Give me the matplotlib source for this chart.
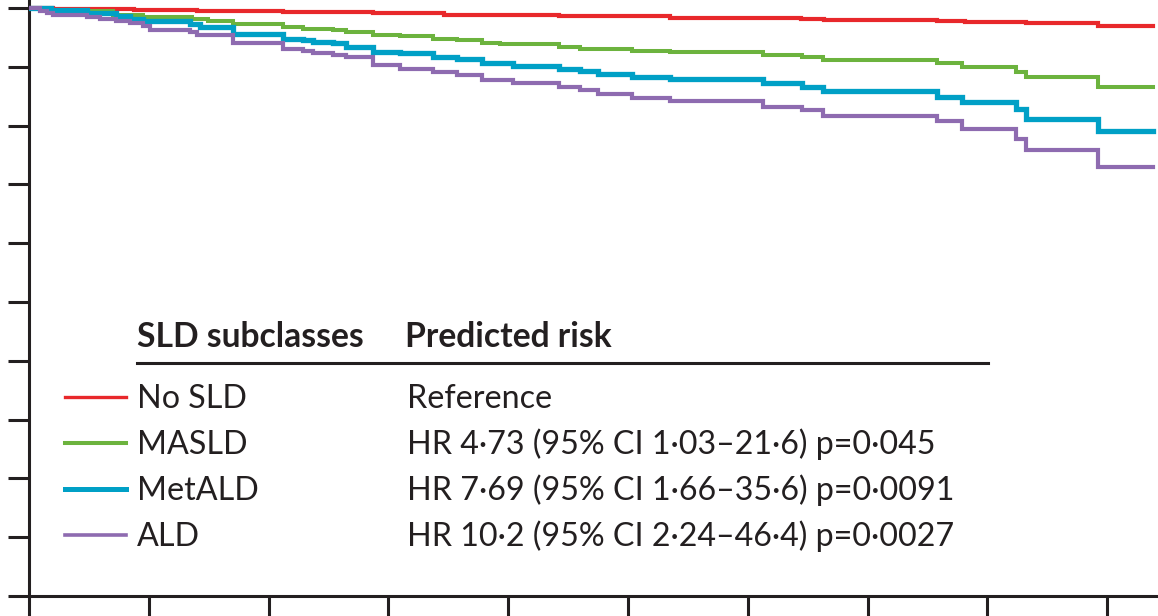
import matplotlib
matplotlib.use("Agg")
import matplotlib.pyplot as plt
from matplotlib.lines import Line2D

plt.rcParams['font.family'] = ['Lato', 'DejaVu Sans']

# ---- data (time in years, survival in %) ----
t_end = 9.38

no_sld_t = [0, 0.20, 0.88, 1.40, 2.12, 2.87, 3.46, 4.42, 5.35, 6.44, 6.64, 7.58, 7.81, 8.23, 8.32, 8.92]
no_sld_s = [100, 99.98, 99.97, 99.95, 99.93, 99.91, 99.88, 99.86, 99.83, 99.81, 99.80, 99.78, 99.77, 99.76, 99.74, 99.70]

masld_t = [0, 0.18, 0.48, 0.70, 0.95, 1.36, 1.49, 1.70, 2.12, 2.29, 2.54, 2.65, 2.87, 3.10, 3.37,
           3.57, 3.78, 3.93, 4.42, 4.60, 4.75, 5.03, 5.35, 6.13, 6.45, 6.63, 7.58, 7.79, 8.24, 8.32, 8.92]
masld_s = [100, 99.97, 99.95, 99.88, 99.85, 99.82, 99.78, 99.73, 99.67, 99.64, 99.62, 99.60, 99.54, 99.52, 99.48,
           99.46, 99.41, 99.39, 99.34, 99.31, 99.30, 99.27, 99.25, 99.20, 99.16, 99.11, 99.07, 99.00, 98.91, 98.82, 98.65]

metald_t = [0, 0.18, 0.48, 0.73, 0.84, 0.95, 1.34, 1.43, 1.70, 2.12, 2.29, 2.37, 2.54, 2.65, 2.87, 3.10, 3.37,
            3.57, 3.78, 4.04, 4.42, 4.60, 4.75, 5.03, 5.35, 6.13, 6.45, 6.63, 7.58, 7.79, 8.24, 8.32, 8.92]
metald_s = [100, 99.97, 99.92, 99.87, 99.82, 99.78, 99.73, 99.67, 99.56, 99.48, 99.45, 99.42, 99.40, 99.34, 99.26,
            99.23, 99.17, 99.13, 99.07, 99.02, 98.97, 98.93, 98.88, 98.82, 98.79, 98.72, 98.65, 98.59, 98.49, 98.40,
            98.29, 98.12, 97.90]

ald_t = [0, 0.09, 0.15, 0.20, 0.48, 0.59, 0.73, 0.84, 0.95, 1.01, 1.34, 1.40, 1.70, 2.12, 2.29, 2.37, 2.54, 2.65,
         2.87, 3.10, 3.37, 3.57, 3.78, 4.04, 4.42, 4.60, 4.75, 5.03, 5.35, 6.13, 6.45, 6.63, 7.58, 7.79, 8.24, 8.32, 8.92]
ald_s = [100, 99.95, 99.91, 99.88, 99.85, 99.82, 99.78, 99.74, 99.70, 99.63, 99.60, 99.54, 99.41, 99.31, 99.27,
         99.23, 99.20, 99.16, 99.03, 98.97, 98.92, 98.86, 98.78, 98.73, 98.66, 98.61, 98.53, 98.47, 98.41, 98.32,
         98.27, 98.17, 98.07, 97.95, 97.78, 97.59, 97.30]

group_names = ["No SLD", "MASLD", "MetALD", "ALD"]
group_hr = ["Reference",
            "HR 4·73 (95% CI 1·03–21·6) p=0·045",
            "HR 7·69 (95% CI 1·66–35·6) p=0·0091",
            "HR 10·2 (95% CI 2·24–46·4) p=0·0027"]
header_left = "SLD subclasses"
header_right = "Predicted risk"

x_ticks = list(range(0, 10))
y_ticks = list(range(90, 101))

# ---- styles ----
colors = ["#e8282b", "#6cb33e", "#00a0c6", "#8e6bb0"]
widths = [3.0, 2.9, 3.8, 3.0]
legend_widths = [2.4, 2.9, 3.6, 2.6]
text_color = "#231f20"

W, H = 1158, 616
fig = plt.figure(figsize=(W / 100, H / 100), dpi=100)
ax = fig.add_axes([29 / W, 20 / H, (W - 29) / W, 596 / H])

series = [(no_sld_t, no_sld_s), (masld_t, masld_s), (metald_t, metald_s), (ald_t, ald_s)]
for (t, s), c, lw in zip(series, colors, widths):
    ax.step(list(t) + [t_end], list(s) + [s[-1]], where="post", color=c, lw=lw,
            solid_joinstyle="miter", zorder=3)

ax.set_xlim(0, (W - 29) / 119.8)
ax.set_ylim(90, 90 + 596 / 58.8)
ax.set_xticks(x_ticks)
ax.set_yticks(y_ticks)
ax.set_xticklabels([])
ax.set_yticklabels([])
for side in ("top", "right"):
    ax.spines[side].set_visible(False)
for side in ("left", "bottom"):
    ax.spines[side].set_linewidth(2.2)
    ax.spines[side].set_color(text_color)
ax.tick_params(axis="both", direction="out", length=15, width=2.2, color=text_color)

# ---- legend table ----
def fx(px):
    return px / W

def fy(py):
    return 1 - py / H

fs = 23.2
fs_bold = 24.2
fig.text(fx(137), fy(347), header_left, fontsize=fs_bold, fontweight="bold", color=text_color,
         ha="left", va="baseline")
fig.text(fx(405), fy(347), header_right, fontsize=fs_bold, fontweight="bold", color=text_color,
         ha="left", va="baseline")
fig.add_artist(Line2D([fx(137), fx(988)], [fy(363), fy(363)], transform=fig.transFigure,
                      color=text_color, lw=2.2))

baselines = [408, 454, 500, 546]
for name, hr, c, lw, b in zip(group_names, group_hr, colors, legend_widths, baselines):
    fig.add_artist(Line2D([fx(65), fx(126)], [fy(b - 11), fy(b - 11)], transform=fig.transFigure,
                          color=c, lw=lw))
    fig.text(fx(137), fy(b), name, fontsize=fs, color=text_color, ha="left", va="baseline")
    fig.text(fx(407), fy(b), hr, fontsize=fs, color=text_color, ha="left", va="baseline")

fig.savefig("out.png", dpi=100)
